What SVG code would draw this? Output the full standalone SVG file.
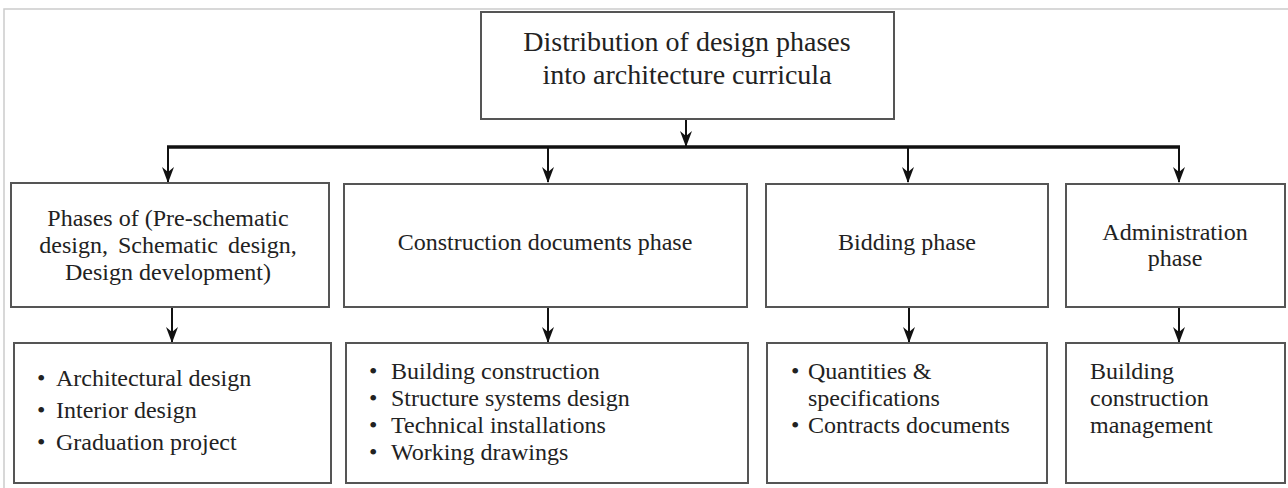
<svg xmlns="http://www.w3.org/2000/svg" width="1288" height="488" viewBox="0 0 1288 488">
<style>
.box{fill:#fff;stroke:#555;stroke-width:2}
.t{font-family:"Liberation Serif","Times New Roman",serif;font-size:24px;fill:#222}
.c{text-anchor:middle}
.ln{stroke:#111;stroke-width:2;fill:none}
.ah{fill:#111}
</style>
<rect x="4" y="9" width="1290" height="490" fill="#fff" stroke="#ccc" stroke-width="1.5"/>
<g id="connectors">
<line class="ln" x1="686" y1="119" x2="686" y2="146"/>
<path class="ah" d="M680,131 L686,136 L692,131 L686,147 Z"/>
<line x1="167" y1="147" x2="1180" y2="147" stroke="#111" stroke-width="3.5"/>
<line class="ln" x1="168" y1="147" x2="168" y2="182"/><path class="ah" d="M162,167 L168,172 L174,167 L168,183 Z"/>
<line class="ln" x1="548" y1="147" x2="548" y2="182"/><path class="ah" d="M542,167 L548,172 L554,167 L548,183 Z"/>
<line class="ln" x1="908" y1="147" x2="908" y2="182"/><path class="ah" d="M902,167 L908,172 L914,167 L908,183 Z"/>
<line class="ln" x1="1179" y1="147" x2="1179" y2="182"/><path class="ah" d="M1173,167 L1179,172 L1185,167 L1179,183 Z"/>
<line class="ln" x1="172" y1="307" x2="172" y2="342"/><path class="ah" d="M166,327 L172,332 L178,327 L172,343 Z"/>
<line class="ln" x1="548" y1="307" x2="548" y2="342"/><path class="ah" d="M542,327 L548,332 L554,327 L548,343 Z"/>
<line class="ln" x1="909" y1="307" x2="909" y2="342"/><path class="ah" d="M903,327 L909,332 L915,327 L909,343 Z"/>
<line class="ln" x1="1179" y1="307" x2="1179" y2="342"/><path class="ah" d="M1173,327 L1179,332 L1185,327 L1179,343 Z"/>
</g>
<g id="root">
<rect class="box" x="481" y="12" width="413" height="107"/>
<text class="t c" x="687" y="51" style="font-size:28px">Distribution of design phases</text>
<text class="t c" x="687" y="84" style="font-size:28px">into architecture curricula</text>
</g>
<g id="phase1">
<rect class="box" x="11" y="183" width="318" height="124"/>
<text class="t c" x="168" y="226">Phases of (Pre-schematic</text>
<text class="t c" x="168" y="253" word-spacing="4">design, Schematic design,</text>
<text class="t c" x="168" y="280">Design development)</text>
</g>
<g id="phase2">
<rect class="box" x="344" y="184" width="403" height="123"/>
<text class="t c" x="545" y="250">Construction documents phase</text>
</g>
<g id="phase3">
<rect class="box" x="766" y="184" width="282" height="123"/>
<text class="t c" x="907" y="250">Bidding phase</text>
</g>
<g id="phase4">
<rect class="box" x="1066" y="184" width="219" height="123"/>
<text class="t c" x="1175" y="240">Administration</text>
<text class="t c" x="1175" y="266">phase</text>
</g>
<g id="list1">
<rect class="box" x="14" y="343" width="317" height="140"/>
<text class="t" y="386"><tspan x="37">•</tspan><tspan x="56">Architectural design</tspan></text>
<text class="t" y="418"><tspan x="37">•</tspan><tspan x="56">Interior design</tspan></text>
<text class="t" y="450"><tspan x="37">•</tspan><tspan x="56">Graduation project</tspan></text>
</g>
<g id="list2">
<rect class="box" x="346" y="343" width="402" height="140"/>
<text class="t" y="379"><tspan x="369">•</tspan><tspan x="391">Building construction</tspan></text>
<text class="t" y="406"><tspan x="369">•</tspan><tspan x="391">Structure systems design</tspan></text>
<text class="t" y="433"><tspan x="369">•</tspan><tspan x="391">Technical installations</tspan></text>
<text class="t" y="460"><tspan x="369">•</tspan><tspan x="391">Working drawings</tspan></text>
</g>
<g id="list3">
<rect class="box" x="767" y="343" width="280" height="140"/>
<text class="t" y="379"><tspan x="791">•</tspan><tspan x="808">Quantities &amp;</tspan></text>
<text class="t" x="808" y="406">specifications</text>
<text class="t" y="433"><tspan x="791">•</tspan><tspan x="808">Contracts documents</tspan></text>
</g>
<g id="list4">
<rect class="box" x="1066" y="343" width="219" height="140"/>
<text class="t" x="1090" y="379">Building</text>
<text class="t" x="1090" y="406">construction</text>
<text class="t" x="1090" y="433">management</text>
</g>
</svg>
